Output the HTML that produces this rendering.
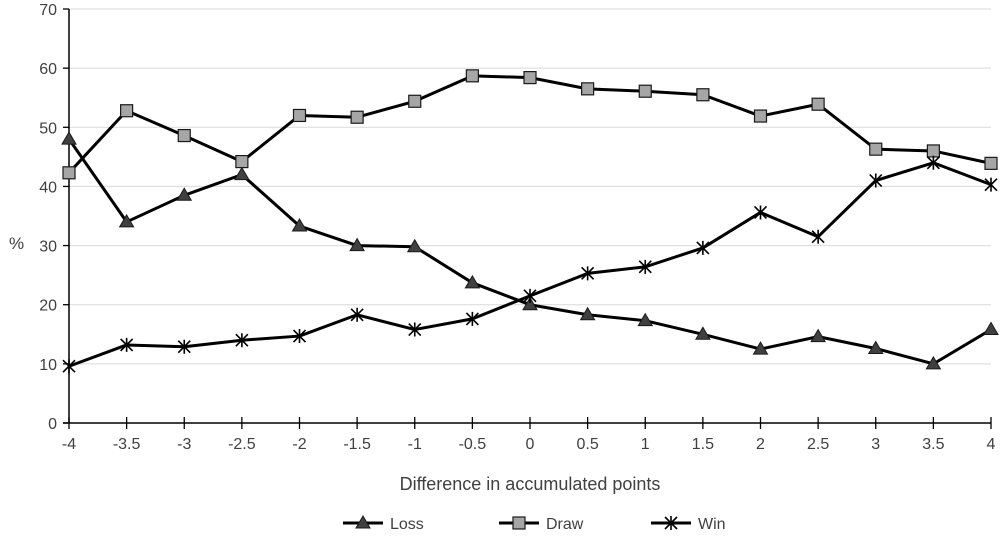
<!DOCTYPE html>
<html><head><meta charset="utf-8"><style>
body{margin:0;background:#fff;}
svg text{font-family:"Liberation Sans",sans-serif;fill:#404040;}
</style></head><body>
<svg id="chart" width="1000" height="535" xmlns="http://www.w3.org/2000/svg"></svg>
<script>
const categories=[-4,-3.5,-3,-2.5,-2,-1.5,-1,-0.5,0,0.5,1,1.5,2,2.5,3,3.5,4];
const xTickLabels=["-4","-3.5","-3","-2.5","-2","-1.5","-1","-0.5","0","0.5","1","1.5","2","2.5","3","3.5","4"];
const yTicks=[0,10,20,30,40,50,60,70];
const lossValues=[48,34,38.5,42,33.3,30,29.8,23.7,20,18.3,17.3,15,12.5,14.6,12.6,10,15.8];
const drawValues=[42.3,52.8,48.6,44.2,52,51.7,54.4,58.7,58.4,56.5,56.1,55.5,51.9,53.9,46.3,46,43.9];
const winValues=[9.6,13.2,12.9,14,14.7,18.3,15.8,17.6,21.5,25.3,26.4,29.6,35.6,31.5,41,44,40.3];

const svg=document.getElementById('chart');
const NS='http://www.w3.org/2000/svg';
const L=69,R=991,T=9,B=423;
const xs=v=>L+(v-(-4))/8*(R-L);
const ys=v=>B-v/70*(B-T);
function mk(tag,attrs,parent){const e=document.createElementNS(NS,tag);for(const k in attrs)e.setAttribute(k,attrs[k]);(parent||svg).appendChild(e);return e;}

yTicks.forEach(t=>{
  if(t>0){const g=mk('line',{x1:L,x2:R,y1:ys(t),y2:ys(t),stroke:'#d9d9d9','stroke-width':1});
  
  }
  const tk=mk('line',{x1:L-6,x2:L,y1:ys(t),y2:ys(t),stroke:'#000','stroke-width':1.3});
  
  
  const tx=mk('text',{x:L-12,y:ys(t)+6,'text-anchor':'end','font-size':16});
  tx.textContent=t;
  
  
});
const ya=mk('line',{x1:L,x2:L,y1:T,y2:B,stroke:'#000','stroke-width':1.5});


const xa=mk('line',{x1:L-6,x2:R,y1:B,y2:B,stroke:'#000','stroke-width':1.5});


categories.forEach((c,i)=>{
  const tk=mk('line',{x1:xs(c),x2:xs(c),y1:B-6,y2:B+6,stroke:'#000','stroke-width':1.3});
  
  
  const tx=mk('text',{x:xs(c),y:B+26,'text-anchor':'middle','font-size':16});
  tx.textContent=xTickLabels[i];
  
  
});
const yt=mk('text',{x:9,y:249,'font-size':17});yt.textContent='%';


const xt=mk('text',{x:530,y:490,'text-anchor':'middle','font-size':18});xt.textContent='Difference in accumulated points';



function marker(type,x,y,parent){
  if(type==='tri'){const m=mk('polygon',{points:`${x},${y-7} ${x-7},${y+5} ${x+7},${y+5}`,fill:'#404040',stroke:'#1a1a1a','stroke-width':1},parent);}
  else if(type==='sq'){const m=mk('rect',{x:x-6,y:y-6,width:12,height:12,fill:'#a6a6a6',stroke:'#1a1a1a','stroke-width':1.2},parent);}
  else{const g=mk('path',{d:`M${x-6},${y-6}L${x+6},${y+6}M${x-6},${y+6}L${x+6},${y-6}M${x},${y-7}L${x},${y+7}`,stroke:'#000','stroke-width':1.6,fill:'none'},parent);}
}
function series(vals,type,name){
  const g=mk('g',{});
  
  
  const p=mk('polyline',{points:vals.map((v,i)=>xs(categories[i])+','+ys(v)).join(' '),fill:'none',stroke:'#000','stroke-width':3,'stroke-linejoin':'round'},g);
  
  
  vals.forEach((v,i)=>marker(type,xs(categories[i]),ys(v),g));
}
series(lossValues,'tri','loss');
series(drawValues,'sq','draw');
series(winValues,'x','win');

const legend=[['tri','Loss',343],['sq','Draw',499],['x','Win',651]];
legend.forEach(([t,lab,x0])=>{
  const g=mk('g',{});
  
  
  const l=mk('line',{x1:x0,x2:x0+40,y1:523,y2:523,stroke:'#000','stroke-width':3},g);
  marker(t,x0+20,523,g);
  const tx=mk('text',{x:x0+47,y:529,'font-size':16},g);tx.textContent=lab;
});
</script>
</body></html>
